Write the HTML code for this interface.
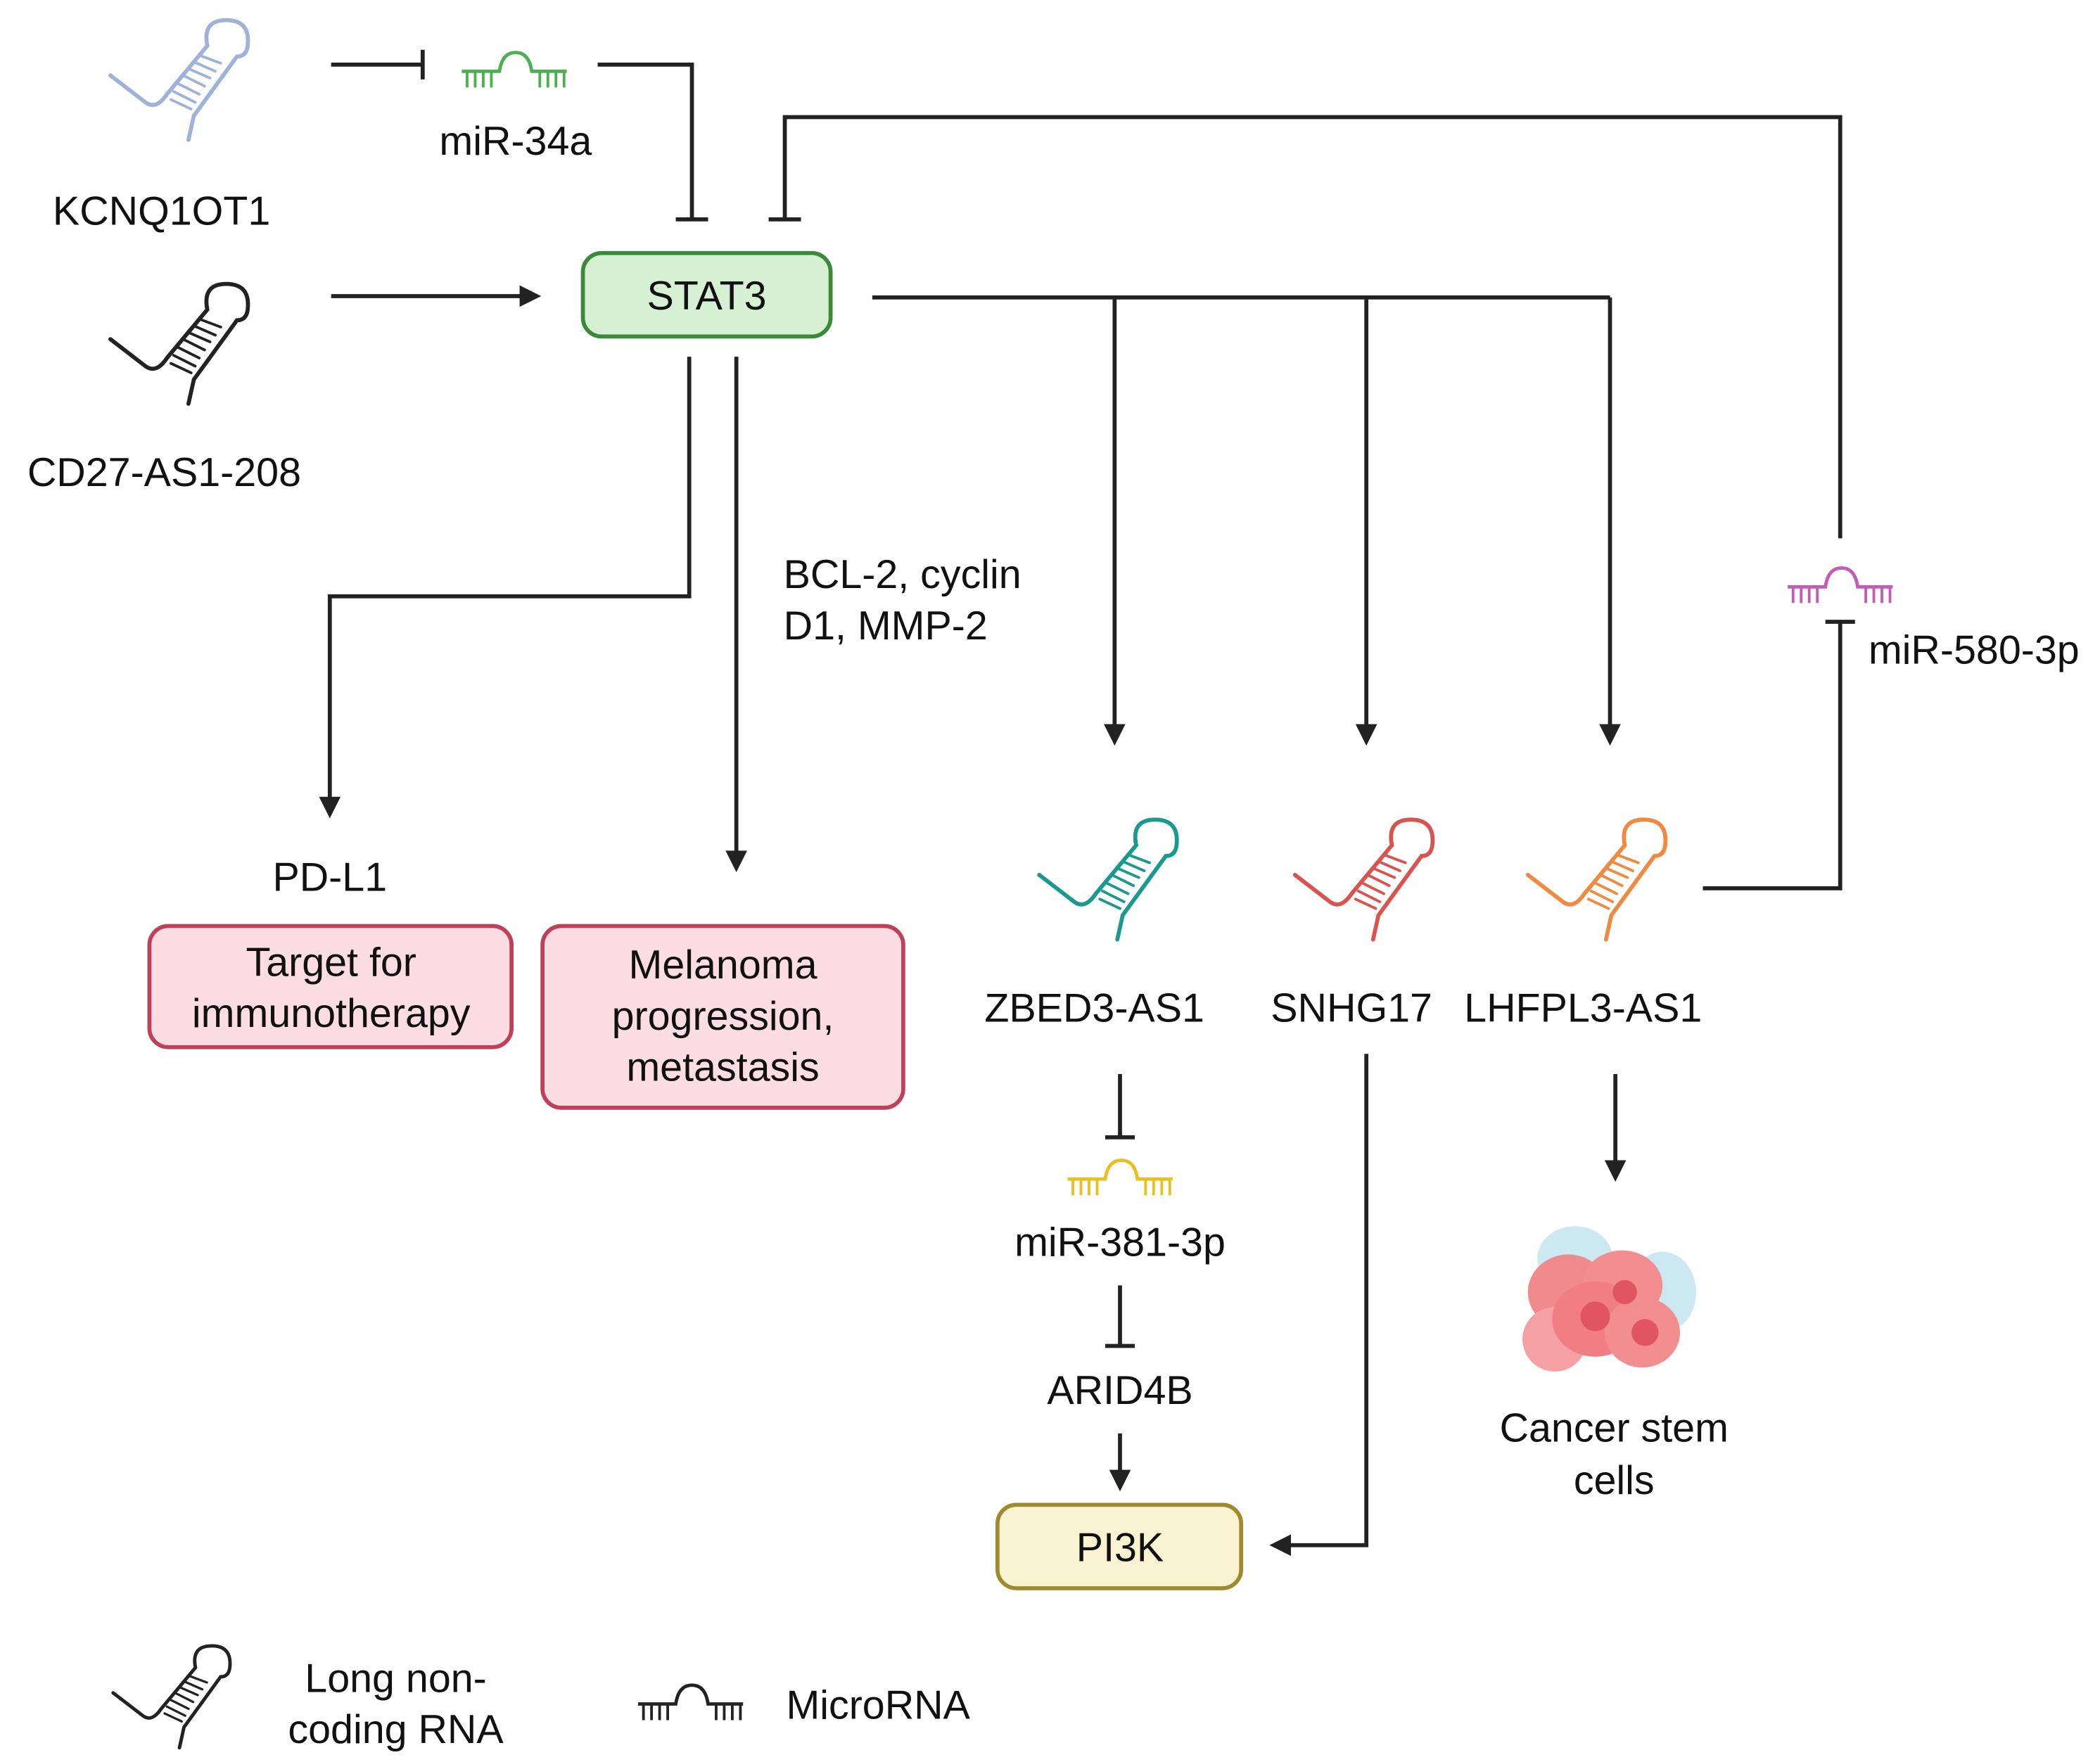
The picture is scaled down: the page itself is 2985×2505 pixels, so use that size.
<!DOCTYPE html>
<html><head><meta charset="utf-8"><style>
html,body{margin:0;padding:0;background:#fff}
svg{display:block}
text{font-family:"Liberation Sans",sans-serif;font-size:30px;fill:#111}
</style></head><body>
<svg width="2985" height="2505" viewBox="0 0 1560 1309.1" preserveAspectRatio="none" xmlns="http://www.w3.org/2000/svg">
<defs>
<g id="lnc" fill="none" stroke-width="3" stroke-linecap="round">
<path d="M0,42 L26,62 Q34,68 42,56 L72,20"/>
<path d="M72,20 Q68,0 88,1 Q104,2 102,20 Q101,28 94,28 L62,72 L58,90"/>
<path d="M50,48 L66,56 M54,42 L70,50 M58,37 L74,44 M62,32 L78,39 M66,27 L82,33 M47,54 L63,62 M45,60 L60,67" stroke-width="2"/>
</g>
<g id="mir" fill="none" stroke-width="2.5">
<path d="M0,8 L28,8 Q30,-6 40,-6 Q50,-6 52,8 L78,8"/>
<path d="M4,8 v12 M10,8 v12 M16,8 v12 M22,8 v12 M58,8 v12 M64,8 v12 M70,8 v12 M76,8 v12" stroke-width="2"/>
</g>
</defs>
<g stroke="#222" stroke-width="3" fill="none">
<path d="M246,48 H314 M314,37 V59"/>
<path d="M444,48 H514 V163 M502,163 H526"/>
<path d="M583,163 V87 H1367 V400 M571,163 H595"/>
<path d="M1265,660 H1367 V462 M1356,462 H1378"/>
<path d="M246,220 H388"/>
<path d="M648,221 H1196 M828,221 V540 M1015,221 V540 M1196,221 V540"/>
<path d="M512,265 V443 H245 V595"/>
<path d="M547,265 V635"/>
<path d="M832,798 V845 M821,845 H843"/>
<path d="M832,955 V1000 M821,1000 H843"/>
<path d="M832,1065 V1095"/>
<path d="M1015,783 V1148 H957"/>
<path d="M1200,798 V865"/>
</g>
<g fill="#222">
<path d="M402,220 L386,212 L386,228Z"/>
<path d="M828,554 L820,538 L836,538Z"/>
<path d="M1015,554 L1007,538 L1023,538Z"/>
<path d="M1196,554 L1188,538 L1204,538Z"/>
<path d="M245,608 L237,592 L253,592Z"/>
<path d="M547,648 L539,632 L555,632Z"/>
<path d="M832,1108 L824,1092 L840,1092Z"/>
<path d="M943,1148 L959,1140 L959,1156Z"/>
<path d="M1200,878 L1192,862 L1208,862Z"/>
</g>
<use href="#lnc" x="82" y="14" stroke="#9fb3d8"/>
<use href="#lnc" x="82" y="210" stroke="#222"/>
<use href="#lnc" x="772" y="608" stroke="#1a9a8e"/>
<use href="#lnc" x="962" y="608" stroke="#d9534f"/>
<use href="#lnc" x="1135" y="608" stroke="#f08a40"/>
<use href="#lnc" x="84" y="1222" stroke="#222" transform="translate(84,1222) scale(0.85) translate(-84,-1222)"/>
<use href="#mir" x="343" y="45" stroke="#4caf50"/>
<use href="#mir" x="1328" y="428" stroke="#c45bb4"/>
<use href="#mir" x="793" y="868" stroke="#e8c020"/>
<use href="#mir" x="474" y="1258" stroke="#222"/>
<rect x="433" y="188" width="184" height="62" rx="14" fill="#d5f0d3" stroke="#3a8a3a" stroke-width="3"/>
<rect x="111" y="688" width="269" height="90" rx="14" fill="#fbdde3" stroke="#c0405a" stroke-width="3"/>
<rect x="403" y="688" width="268" height="135" rx="14" fill="#fbdde3" stroke="#c0405a" stroke-width="3"/>
<rect x="741" y="1118" width="181" height="62" rx="14" fill="#faf3d2" stroke="#a08a30" stroke-width="3"/>
<g>
<ellipse cx="1170" cy="935" rx="28" ry="24" fill="#bfe3ee" opacity=".8"/>
<ellipse cx="1235" cy="960" rx="25" ry="30" fill="#bfe3ee" opacity=".8"/>
<ellipse cx="1165" cy="960" rx="30" ry="28" fill="#f08a8c"/>
<ellipse cx="1205" cy="955" rx="30" ry="26" fill="#f28e90"/>
<ellipse cx="1155" cy="995" rx="24" ry="24" fill="#f5a0a2"/>
<ellipse cx="1185" cy="980" rx="32" ry="28" fill="#f07e82"/>
<ellipse cx="1220" cy="990" rx="28" ry="26" fill="#f28e90"/>
<circle cx="1185" cy="978" r="11" fill="#e05560"/>
<circle cx="1207" cy="960" r="9" fill="#e05560"/>
<circle cx="1222" cy="990" r="10" fill="#e05560"/>
</g>
<text x="120" y="167" text-anchor="middle">KCNQ1OT1</text>
<text x="122" y="361" text-anchor="middle">CD27-AS1-208</text>
<text x="383" y="115" text-anchor="middle">miR-34a</text>
<text x="525" y="230" text-anchor="middle">STAT3</text>
<text x="582" y="437">BCL-2, cyclin</text>
<text x="582" y="475">D1, MMP-2</text>
<text x="1388" y="493">miR-580-3p</text>
<text x="245" y="662" text-anchor="middle">PD-L1</text>
<text x="246" y="725" text-anchor="middle">Target for</text>
<text x="246" y="763" text-anchor="middle">immunotherapy</text>
<text x="537" y="727" text-anchor="middle">Melanoma</text>
<text x="537" y="765" text-anchor="middle">progression,</text>
<text x="537" y="803" text-anchor="middle">metastasis</text>
<text x="813" y="759" text-anchor="middle">ZBED3-AS1</text>
<text x="1004" y="759" text-anchor="middle">SNHG17</text>
<text x="1176" y="759" text-anchor="middle">LHFPL3-AS1</text>
<text x="832" y="933" text-anchor="middle">miR-381-3p</text>
<text x="832" y="1043" text-anchor="middle">ARID4B</text>
<text x="832" y="1160" text-anchor="middle">PI3K</text>
<text x="1199" y="1071" text-anchor="middle">Cancer stem</text>
<text x="1199" y="1110" text-anchor="middle">cells</text>
<text x="294" y="1257" text-anchor="middle">Long non-</text>
<text x="294" y="1295" text-anchor="middle">coding RNA</text>
<text x="584" y="1277">MicroRNA</text>
</svg>
</body></html>
